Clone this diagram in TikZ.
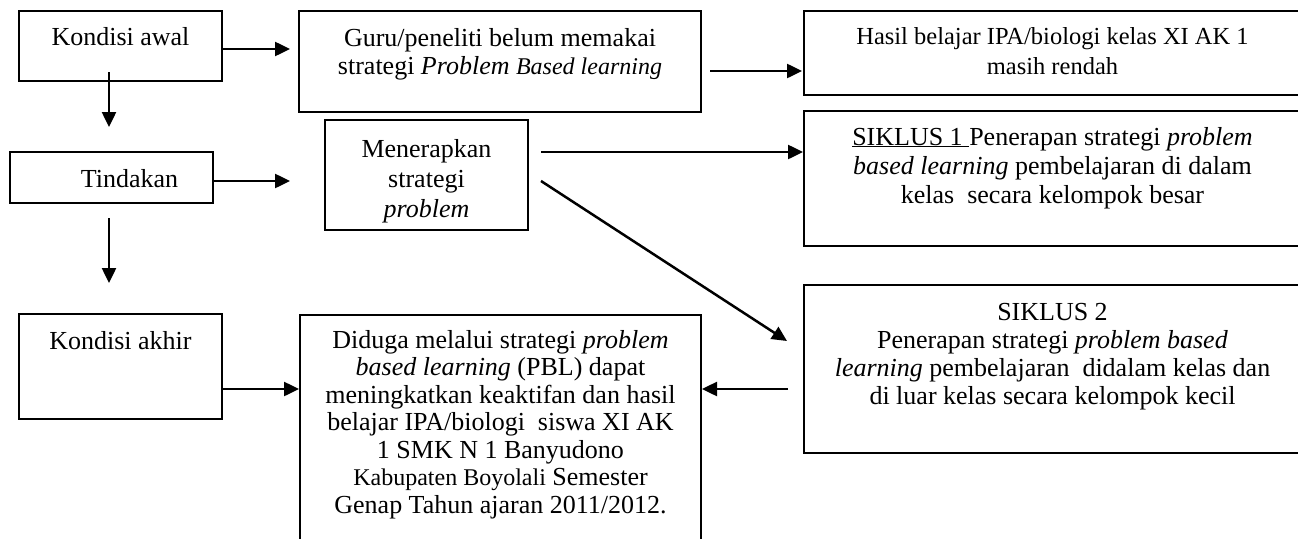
\documentclass[tikz,border=0pt]{standalone}
\usepackage{fontspec}
\setmainfont{Liberation Serif}
\usetikzlibrary{arrows.meta,calc}
\newcommand{\fs}{\fontsize{26}{28}\selectfont}
\newcommand{\bxt}[4]{\parbox[t][#2][t]{#1}{\vspace*{#3}\centering #4\par}}
\begin{document}
\begin{tikzpicture}[x=1pt,y=-1pt,
  box/.style={draw, line width=2pt, inner sep=0pt, anchor=north west, font=\fs},
  arr/.style={line width=2.5pt, -{Triangle[length=15pt,width=14pt]}}]
\useasboundingbox (0,0) rectangle (1298,538);

\node[box] (ka) at (18,10) {\bxt{203pt}{70pt}{16pt}{Kondisi awal}};
\node[box] (guru) at (298,10) {\bxt{402pt}{101pt}{17pt}{Guru/peneliti belum memakai\\ strategi \textit{Problem {\fontsize{24}{28}\selectfont Based learning}}}};
\node[box] (hasil) at (803,10) {\bxt{497pt}{84pt}{17pt}{\fontsize{24.5}{28}\selectfont Hasil belajar IPA/biologi kelas XI AK 1\\[2pt] masih rendah}};
\node[box] (tin) at (9,151) {\bxt{203pt}{51pt}{17pt}{\hspace*{36pt}Tindakan}};
\node[box] (men) at (324,119) {\bxt{203pt}{110pt}{19pt}{Menerapkan\\[2pt] strategi\\[2pt] \textit{problem}}};
\node[box] (s1) at (803,110) {\bxt{497pt}{135pt}{16pt}{\underline{SIKLUS 1 }Penerapan strategi \textit{problem}\\[1pt] \textit{based learning} pembelajaran di dalam\\[1pt] kelas\ \ secara kelompok besar}};
\node[box] (kak) at (18,313) {\bxt{203pt}{105pt}{17pt}{Kondisi akhir}};
\node[box] (dug) at (299,314) {\bxt{401pt}{240pt}{15pt}{\fontsize{26}{27.5}\selectfont Diduga melalui strategi \textit{problem}\\ \textit{based learning} (PBL) dapat\\ meningkatkan keaktifan dan hasil\\ belajar IPA/biologi\ \ siswa XI AK\\ 1 SMK N 1 Banyudono\\ {\fontsize{24}{27.5}\selectfont Kabupaten Boyolali} Semester\\ Genap Tahun ajaran 2011/2012.}};
\node[box] (s2) at (803,284) {\bxt{497pt}{168pt}{18pt}{SIKLUS 2\\ Penerapan strategi \textit{problem based}\\ \textit{learning} pembelajaran\ \ didalam kelas dan\\ di luar kelas secara kelompok kecil}};

\draw[arr] ($(ka.east)+(0,3)$) -- ($(ka.east -| guru.west)+(-8,3)$);
\draw[arr] ($(ka.south)+(-11.5,-10)$) -- ($(tin.north)+(-2.5,-24)$);
\draw[arr] ($(guru.east)+(8,9.5)$) -- ($(guru.east -| hasil.west)+(-1,9.5)$);
\draw[arr] ($(tin.east)+(0,3.5)$) -- ($(tin.east -| men.west)+(-34,3.5)$);
\draw[arr] ($(tin.south)+(-2.5,14)$) -- ($(kak.north)+(-11.5,-30)$);
\draw[arr] ($(men.east)+(12,-23)$) -- ($(men.east -| s1.west)+(0,-23)$);
\draw[arr] ($(men.east)+(12,6)$) -- ($(s2.west)+(-16,-28)$);
\draw[arr] ($(kak.east)+(0,22.5)$) -- ($(kak.east -| dug.west)+(0,22.5)$);
\draw[arr] ($(s2.west)+(-15,20)$) -- ($(s2.west -| dug.east)+(0,20)$);
\end{tikzpicture}
\end{document}
